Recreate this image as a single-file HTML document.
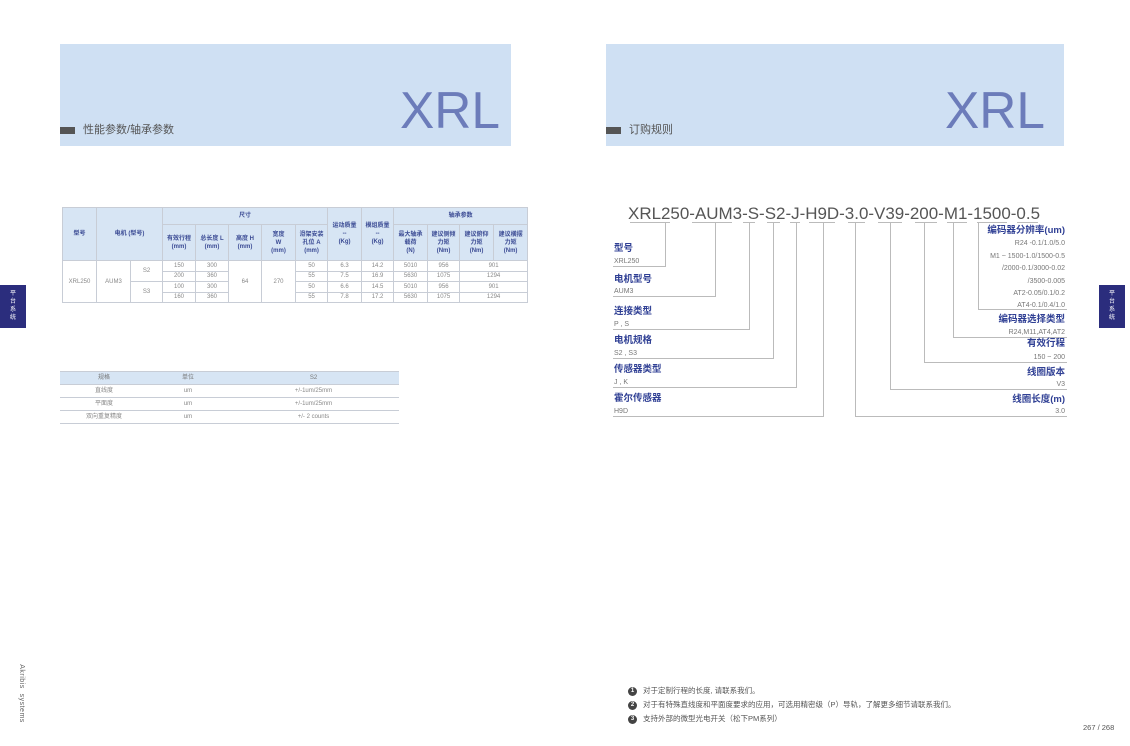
<!DOCTYPE html>
<html><head><meta charset="utf-8">
<style>
*{margin:0;padding:0;box-sizing:border-box}
body{width:1130px;height:746px;background:#fff;position:relative;overflow:hidden;font-family:"Liberation Sans","Noto Sans CJK SC",sans-serif;color:#777}
.ban{position:absolute;background:#cfe0f3}
.sq{position:absolute;width:15px;height:7px;background:#555}
.st{position:absolute;font-size:11px;color:#555;line-height:1}
.tab{position:absolute;width:26px;height:43px;background:#2b2d7d;color:#fff;font-size:6px;line-height:8px;text-align:center;padding-top:5px}
table{position:absolute;border-collapse:collapse;table-layout:fixed;font-size:6px;color:#888}
td{border:1px solid #c8cdd6;text-align:center;vertical-align:middle;line-height:8px;padding:0}
.h td{background:#d7e5f4;color:#3b4b94;font-weight:bold}
.t2 td{border-left:none;border-right:none}
.note{position:absolute;left:628px;font-size:7.5px;color:#555;line-height:10px}
.note b{display:inline-block;width:9px;height:9px;border-radius:50%;background:#444;color:#fff;font-size:6px;text-align:center;line-height:9px;margin-right:6px;vertical-align:middle}
</style></head><body>
<div class="ban" style="left:60px;top:44px;width:451px;height:102px"></div>
<div class="ban" style="left:606px;top:44px;width:458px;height:102px"></div>
<div class="sq" style="left:60px;top:127px"></div>
<div class="st" style="left:83px;top:125px">性能参数/轴承参数</div>
<div class="sq" style="left:606px;top:127px"></div>
<div class="st" style="left:629px;top:125px">订购规则</div>
<div class="tab" style="left:0;top:285px">平<br>台<br>系<br>统</div>
<div class="tab" style="left:1099px;top:285px">平<br>台<br>系<br>统</div>
<div style="position:absolute;left:-8px;top:690px;transform:rotate(90deg);font-size:7px;color:#666;white-space:nowrap;letter-spacing:0.5px">Akribis&nbsp; systems</div>

<table style="left:62px;top:207px;width:465px">
<colgroup><col style="width:34px"><col style="width:34px"><col style="width:32px"><col style="width:33px"><col style="width:33px"><col style="width:33px"><col style="width:34px"><col style="width:32px"><col style="width:34px"><col style="width:32px"><col style="width:34px"><col style="width:32px"><col style="width:34px"><col style="width:34px"></colgroup>
<tr class="h" style="height:17px"><td rowspan="2">型号</td><td rowspan="2" colspan="2">电机 (型号)</td><td colspan="5">尺寸</td><td rowspan="2">运动质量<br>--<br>(Kg)</td><td rowspan="2">模组质量<br>--<br>(Kg)</td><td colspan="4">轴承参数</td></tr>
<tr class="h" style="height:36px"><td>有效行程<br>(mm)</td><td>总长度 L<br>(mm)</td><td>高度 H<br>(mm)</td><td>宽度<br>W<br>(mm)</td><td>滑架安装<br>孔位 A<br>(mm)</td><td>最大轴承<br>载荷<br>(N)</td><td>建议侧倾<br>力矩<br>(Nm)</td><td>建议俯仰<br>力矩<br>(Nm)</td><td>建议横摆<br>力矩<br>(Nm)</td></tr>
<tr style="height:10.5px"><td rowspan="4">XRL250</td><td rowspan="4">AUM3</td><td rowspan="2">S2</td><td>150</td><td>300</td><td rowspan="4">64</td><td rowspan="4">270</td><td>50</td><td>6.3</td><td>14.2</td><td>5010</td><td>956</td><td colspan="2">901</td></tr>
<tr style="height:10.5px"><td>200</td><td>360</td><td>55</td><td>7.5</td><td>16.9</td><td>5630</td><td>1075</td><td colspan="2">1294</td></tr>
<tr style="height:10.5px"><td rowspan="2">S3</td><td>100</td><td>300</td><td>50</td><td>6.6</td><td>14.5</td><td>5010</td><td>956</td><td colspan="2">901</td></tr>
<tr style="height:10.5px"><td>160</td><td>360</td><td>55</td><td>7.8</td><td>17.2</td><td>5630</td><td>1075</td><td colspan="2">1294</td></tr>
</table>

<table class="t2" style="left:60px;top:371px;width:339px">
<colgroup><col style="width:88px"><col style="width:80px"><col style="width:171px"></colgroup>
<tr class="h" style="height:13px"><td style="font-weight:normal;color:#777">规格</td><td style="font-weight:normal;color:#777">单位</td><td style="font-weight:normal;color:#777">S2</td></tr>
<tr style="height:13px"><td>直线度</td><td>um</td><td>+/-1um/25mm</td></tr>
<tr style="height:13px"><td>平面度</td><td>um</td><td>+/-1um/25mm</td></tr>
<tr style="height:13px"><td>双向重复精度</td><td>um</td><td>+/- 2 counts</td></tr>
</table>

<svg style="position:absolute;left:0;top:0" width="1130" height="746" font-family="Liberation Sans, Noto Sans CJK SC, sans-serif">
<text x="400" y="128" font-size="52" fill="#6c7cba" textLength="100" lengthAdjust="spacingAndGlyphs">XRL</text>
<text x="945" y="128" font-size="52" fill="#6c7cba" textLength="100" lengthAdjust="spacingAndGlyphs">XRL</text>
<text x="628" y="219" font-size="17" fill="#555" textLength="412" lengthAdjust="spacingAndGlyphs">XRL250-AUM3-S-S2-J-H9D-3.0-V39-200-M1-1500-0.5</text>
<g stroke="#bbb" stroke-width="1" fill="none">
<path d="M630 222.5h40M692 222.5h40M743 222.5h12M767 222.5h13M790 222.5h10M809 222.5h26M848 222.5h17M878 222.5h24M915 222.5h22M947 222.5h20M977 222.5h30M1017 222.5h21"/>
<path d="M665.5 223V266.5H613M715.5 223V296.5H613M749.5 223V329.5H613M773.5 223V358.5H613M796.5 223V387.5H613M823.5 223V416.5H613"/>
<path d="M978.5 223V309.5H1067M953.5 223V337.5H1067M924.5 223V362.5H1067M890.5 223V389.5H1067M855.5 223V416.5H1067"/>
</g>
<g font-size="9.5" font-weight="bold" fill="#2f3f94">
<text x="614" y="251">型号</text><text x="614" y="282">电机型号</text><text x="614" y="314">连接类型</text><text x="614" y="343">电机规格</text><text x="614" y="372">传感器类型</text><text x="614" y="401">霍尔传感器</text>
<g text-anchor="end"><text x="1065" y="233">编码器分辨率(um)</text><text x="1065" y="322">编码器选择类型</text><text x="1065" y="346">有效行程</text><text x="1065" y="375">线圈版本</text><text x="1065" y="402">线圈长度(m)</text></g>
</g>
<g font-size="7" fill="#777">
<text x="614" y="263">XRL250</text><text x="614" y="293">AUM3</text><text x="614" y="326">P , S</text><text x="614" y="355">S2 , S3</text><text x="614" y="384">J , K</text><text x="614" y="413">H9D</text>
<g text-anchor="end"><text x="1065" y="245">R24  -0.1/1.0/5.0</text><text x="1065" y="258">M1 ~ 1500-1.0/1500-0.5</text><text x="1065" y="270">/2000-0.1/3000-0.02</text><text x="1065" y="283">/3500-0.005</text><text x="1065" y="295">AT2-0.05/0.1/0.2</text><text x="1065" y="307">AT4-0.1/0.4/1.0</text><text x="1065" y="334">R24,M11,AT4,AT2</text><text x="1065" y="359">150 ~ 200</text><text x="1065" y="386">V3</text><text x="1065" y="413">3.0</text></g>
</g>
</svg>

<div class="note" style="top:686px"><b>1</b>对于定制行程的长度, 请联系我们。</div>
<div class="note" style="top:700px"><b>2</b>对于有特殊直线度和平面度要求的应用，可选用精密级（P）导轨，了解更多细节请联系我们。</div>
<div class="note" style="top:714px"><b>3</b>支持外部的微型光电开关（松下PM系列）</div>
<div style="position:absolute;left:1083px;top:723px;font-size:7.5px;color:#555">267 / 268</div>
</body></html>
